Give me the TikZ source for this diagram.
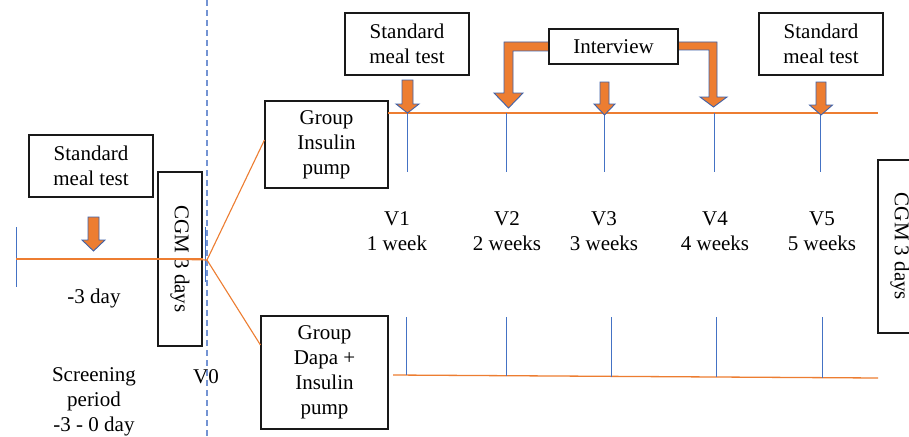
\documentclass[tikz,border=0pt]{standalone}
\usepackage{fontspec}
\setmainfont{Liberation Serif}
\definecolor{orng}{HTML}{ED7D31}
\definecolor{tickblue}{HTML}{4472C4}
\definecolor{dashblue}{HTML}{7393D3}
\definecolor{arrline}{HTML}{4062A8}
\newcommand\dnarr[6]{%
  \filldraw[blockarr] (#1-#5,#2) -- (#1+#5,#2) -- (#1+#5,#3) -- (#1+#6,#3) -- (#1,#4) -- (#1-#6,#3) -- (#1-#5,#3) -- cycle;}
\begin{document}
\begin{tikzpicture}[x=1pt,y=-1pt,
  txt/.style={font=\fontsize{21}{25}\selectfont, align=center, inner sep=0pt},
  box/.style={txt, draw=black!90, line width=1.1pt, fill=white},
  tline/.style={orng, line width=1.3pt},
  vtick/.style={tickblue, line width=1pt},
  blockarr/.style={fill=orng, draw=arrline, line width=0.9pt, line join=miter},
  branch/.style={orng, line width=1.1pt}]
\useasboundingbox (0,0) rectangle (909,436);
\fill[white] (0,0) rectangle (909,436);

% dashed V0 line
\draw[dashblue, line width=1.2pt, dash pattern=on 6pt off 4pt] (207,0) -- (207,436);

% screening timeline
\coordinate (s0) at (16,259);
\draw[vtick] (16,227) -- (16,287);
\node[box, minimum width=124pt, minimum height=62pt] (smtL) at (91,166) {Standard\\meal test};
\node[box, rotate=-90, minimum width=174pt, minimum height=44pt] (cgmL) at (180,259) {CGM 3 days};
\draw[tline] (s0) -- (cgmL.north);
\dnarr{93.5}{217}{240}{251}{5.5}{11.5}
\node[txt] (d3) at (94,298) {-3 day};
\node[txt] (scr) at (94,402) {Screening\\period\\-3 - 0 day};
\node[txt] (v0) at (206,377) {V0};

% V0 branch
\coordinate (br) at (207,260);
\draw[vtick] (205,227) -- (205,282);
\node[box, minimum width=123pt, minimum height=87pt] (gI) at (326.5,144.5) {Group\\Insulin\\pump};
\node[box, minimum width=127pt, minimum height=113pt] (gD) at (324.5,372.5) {Group\\Dapa +\\Insulin\\pump};
\draw[branch] (br) -- (gI.west |- 0,140);
\draw[branch] (br) -- (gD.west |- 0,345);
\draw[branch] (cgmL.south) -- (br);

% top timeline
\coordinate (tA) at (388,113);
\coordinate (tB) at (878,113);
\draw[tline] (tA) -- (tB);
\foreach \x in {407,506,604,714,820}{\draw[vtick] (\x,113) -- (\x,172);}
% bottom timeline
\coordinate (bA) at (393,375);
\coordinate (bB) at (878,378);
\draw[tline] (bA) -- (bB);
\foreach \x/\yy in {406/375,506/376,611/376.5,716/377,822/378}{\draw[vtick] (\x,317) -- (\x,\yy);}

% visit labels
\node[txt] (v1) at (397,231) {V1\\1 week};
\node[txt] (v2) at (507,231) {V2\\2 weeks};
\node[txt] (v3) at (604,231) {V3\\3 weeks};
\node[txt] (v4) at (715,231) {V4\\4 weeks};
\node[txt] (v5) at (822,231) {V5\\5 weeks};

% meal tests top
\node[box, minimum width=124pt, minimum height=62pt] (smtM) at (407,44) {Standard\\meal test};
\node[box, minimum width=124pt, minimum height=62pt] (smtR) at (821,44) {Standard\\meal test};
\dnarr{407.5}{80}{104}{113}{5.5}{11.5}
\dnarr{604.5}{82}{104}{115}{4.5}{10.5}
\dnarr{821}{82}{105}{115}{5}{11.5}

% interview bent arrows
\filldraw[blockarr] (552,42) -- (504,42) -- (504,93) -- (494,93) -- (508.5,108) -- (523,93) -- (513,93) -- (513,51) -- (552,51) -- cycle;
\filldraw[blockarr] (675,42) -- (717,42) -- (717,97) -- (727,97) -- (713.5,107) -- (700,97) -- (709,97) -- (709,50) -- (675,50) -- cycle;
\node[box, minimum width=129pt, minimum height=35pt] (intv) at (613.5,46.5) {Interview};

% right CGM box (clipped by page)
\node[box, rotate=-90, minimum width=173pt, minimum height=44pt] (cgmR) at (900,246.5) {CGM 3 days};
\end{tikzpicture}
\end{document}
